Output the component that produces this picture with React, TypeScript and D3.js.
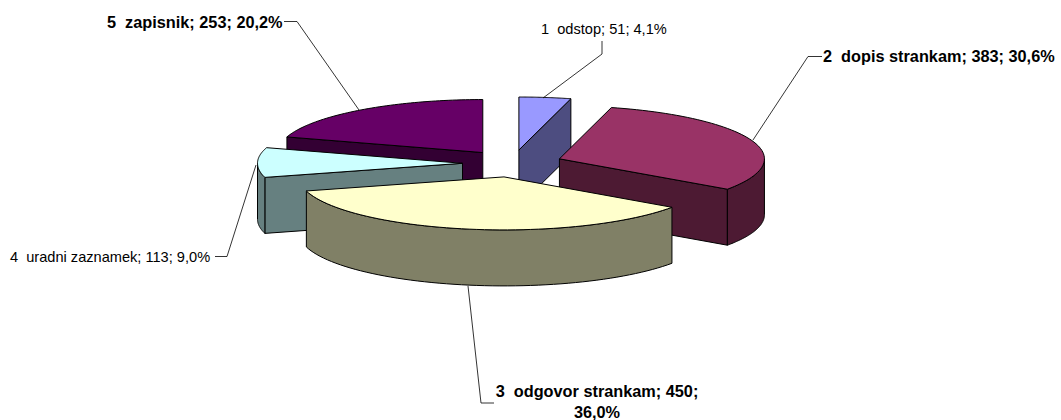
import React from "react";
import * as d3 from "d3";

const categories = ["1  odstop", "2  dopis strankam", "3  odgovor strankam", "4  uradni zaznamek", "5  zapisnik"];
const values = [51, 383, 450, 113, 253];
const percents = ["4,1%", "30,6%", "36,0%", "9,0%", "20,2%"];
const topColors = ["#9999FF", "#993366", "#FFFFCC", "#CCFFFF", "#660066"];
const wallColors = ["#4D4D80", "#4D1A33", "#808066", "#668080", "#330033"];
const boldFlags = [false, true, true, false, true];
const paintOrder = [4, 0, 1, 3, 2];

const W = 1061, H = 420;
const CX = 512.5, CY = 163.5, RX = 205, RY = 53, DEPTH = 56, EXPLODE_X = 50, EXPLODE_Y = 13.6;

const leaders: [number, number][][] = [
  [[602, 41], [602, 54], [543, 98]],
  [[822, 56.5], [808, 56.5], [753, 140]],
  [[494, 403], [481, 403], [468, 286]],
  [[215, 256.5], [227, 256.5], [256, 165]],
  [[284, 21.5], [297, 21.5], [359, 110]],
];
const labelLines: { x: number; y: number; anchor: string; text: (i: number) => string }[][] = [
  [{ x: 541, y: 34, anchor: "start", text: (i) => `${categories[i]}; ${values[i]}; ${percents[i]}` }],
  [{ x: 823, y: 62, anchor: "start", text: (i) => `${categories[i]}; ${values[i]}; ${percents[i]}` }],
  [
    { x: 597, y: 397, anchor: "middle", text: (i) => `${categories[i]}; ${values[i]};` },
    { x: 597, y: 418, anchor: "middle", text: (i) => percents[i] },
  ],
  [{ x: 10, y: 262, anchor: "start", text: (i) => `${categories[i]}; ${values[i]}; ${percents[i]}` }],
  [{ x: 107, y: 28, anchor: "start", text: (i) => `${categories[i]}; ${values[i]}; ${percents[i]}` }],
];

const line = d3.line<[number, number]>().x((d) => d[0]).y((d) => d[1]);
const arcs = d3.pie<number>().sort(null).startAngle(0).endAngle(2 * Math.PI)(values);

function slicePaths(i: number) {
  const { startAngle: a0, endAngle: a1 } = arcs[i];
  const mid = (a0 + a1) / 2;
  const ax = CX + EXPLODE_X * Math.sin(mid);
  const ay = CY - EXPLODE_Y * Math.cos(mid);
  const pt = (a: number): [number, number] => [ax + RX * Math.sin(a), ay - RY * Math.cos(a)];
  const sweep = (from: number, to: number) =>
    d3.range(0, 61).map((k) => pt(from + ((to - from) * k) / 60));
  const down = (ps: [number, number][]) => ps.map((p): [number, number] => [p[0], p[1] + DEPTH]).reverse();
  const apex: [number, number] = [ax, ay];

  const walls: string[] = [];
  if (Math.sin(a0) < -1e-6) {
    walls.push(line([apex, pt(a0), [pt(a0)[0], pt(a0)[1] + DEPTH], [ax, ay + DEPTH]])! + "Z");
  }
  if (Math.sin(a1) > 1e-6) {
    walls.push(line([apex, pt(a1), [pt(a1)[0], pt(a1)[1] + DEPTH], [ax, ay + DEPTH]])! + "Z");
  }
  const from = Math.max(a0, Math.PI / 2);
  const to = Math.min(a1, (3 * Math.PI) / 2);
  if (to > from) {
    const rim = sweep(from, to);
    walls.push(line([...rim, ...down(rim)])! + "Z");
  }
  const top = line([apex, ...sweep(a0, a1)])! + "Z";
  return { walls, top };
}

export default function App() {
  return (
    <svg
      width={W}
      height={H}
      viewBox={`0 0 ${W} ${H}`}
      style={{ position: "absolute", left: 0, top: 0, background: "#fff" }}
      fontFamily="'Liberation Sans', Arial, sans-serif"
    >
      {paintOrder.map((i) => {
        const { walls, top } = slicePaths(i);
        return (
          <g key={i} stroke="#000" strokeWidth={1} strokeLinejoin="round">
            {walls.map((d, j) => (
              <path key={j} d={d} fill={wallColors[i]} />
            ))}
            <path d={top} fill={topColors[i]} />
          </g>
        );
      })}
      {leaders.map((pts, i) => (
        <path key={i} d={line(pts)!} fill="none" stroke="#000" strokeWidth={0.8} />
      ))}
      {labelLines.map((ls, i) =>
        ls.map((l, j) => (
          <text
            key={`${i}-${j}`}
            x={l.x}
            y={l.y}
            textAnchor={l.anchor}
            fontSize={boldFlags[i] ? 16.3 : 14.6}
            fontWeight={boldFlags[i] ? 700 : 400}
            fill="#000"
            style={{ whiteSpace: "pre" }}
          >
            {l.text(i)}
          </text>
        ))
      )}
    </svg>
  );
}
